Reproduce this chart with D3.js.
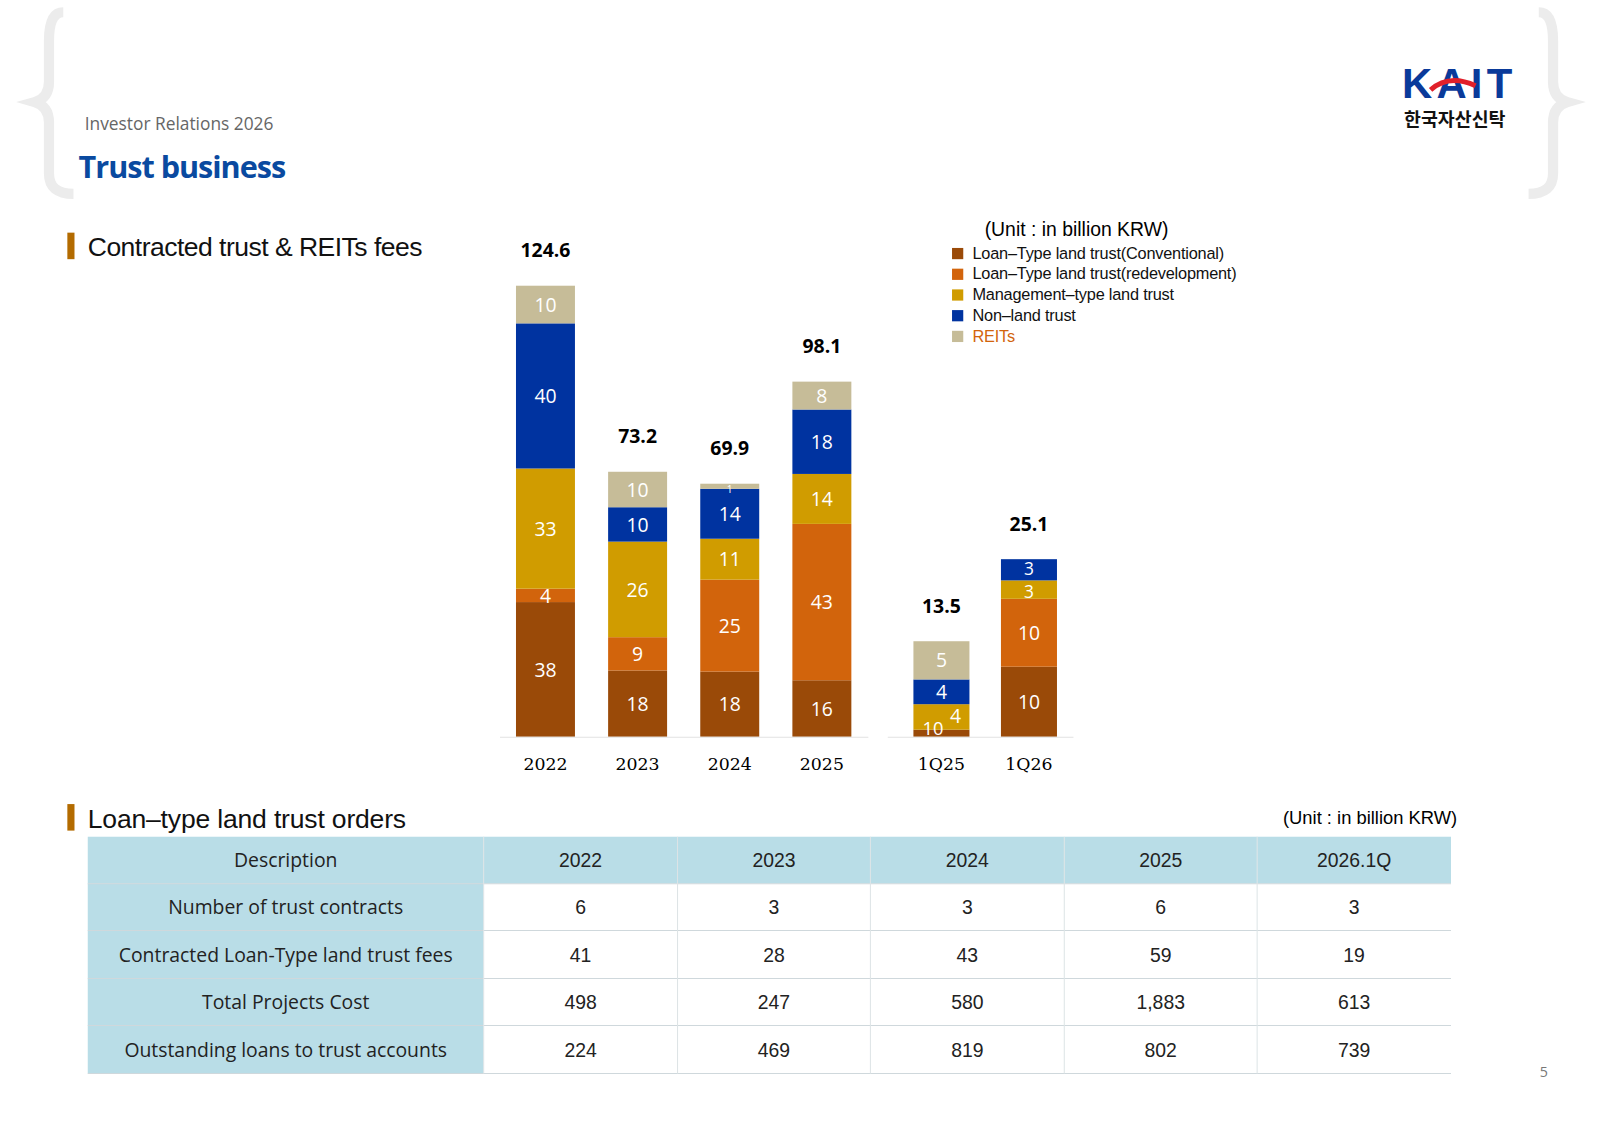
<!DOCTYPE html><html><head><meta charset="utf-8"><script src="https://cdn.jsdelivr.net/npm/d3@7"></script>
<style>body{margin:0;background:#fff}</style></head><body><svg id="c" width="1600" height="1132"></svg>
<script>
const annualCats=["2022","2023","2024","2025"];
const quarterCats=["1Q25","1Q26"];
const seriesNames=["Loan–Type land trust(Conventional)","Loan–Type land trust(redevelopment)","Management–type land trust","Non–land trust","REITs"];
const colors=["#9a4a08","#d2640c","#d09c00","#0033a0","#c6bc98"];
const annualVals=[[37.2,3.7,33.2,40.1,10.4],[18.3,9.2,26.4,9.5,9.8],[18,25.4,11.3,13.8,1.4],[15.6,43.2,13.8,17.8,7.7]];
const annualLabels=[["38","4","33","40","10"],["18","9","26","10","10"],["18","25","11","14","1"],["16","43","14","18","8"]];
const annualTotals=["124.6","73.2","69.9","98.1"];
const quarterVals=[[1.0,3.6,3.5,5.4],[9.9,9.6,2.6,3.0]];
const quarterLabels=[["10","4","4","5"],["10","10","3","3"]];
const quarterSeries=[[0,2,3,4],[0,1,2,3]];
const quarterTotals=["13.5","25.1"];
const tableHead=["Description","2022","2023","2024","2025","2026.1Q"];
const tableRows=[["Number of trust contracts","6","3","3","6","3"],["Contracted Loan-Type land trust fees","41","28","43","59","19"],["Total Projects Cost","498","247","580","1,883","613"],["Outstanding loans to trust accounts","224","469","819","802","739"]];

const svg=d3.select("#c").append("g").attr("transform","scale(1.0204)");const F="'Open Sans','Noto Sans',sans-serif";const FA="'Liberation Sans',Arial,sans-serif";
svg.append("path").attr("d","M62,12 Q48,12 48,40 L48,80 Q48,96 34,100 Q48,104 48,120 L48,170 Q48,190 72,190").attr("fill","none").attr("stroke","#ececec").attr("stroke-width",10);
svg.append("path").attr("d","M1508,12 Q1522,12 1522,40 L1522,80 Q1522,96 1536,100 Q1522,104 1522,120 L1522,170 Q1522,190 1498,190").attr("fill","none").attr("stroke","#ececec").attr("stroke-width",10);
svg.append("text").attr("x",1374).attr("y",96).text("KAIT").attr("font-family",FA).attr("font-weight","bold").attr("font-size",41).attr("fill","#0a3a9a").attr("textLength",108);
svg.append("path").attr("d","M1402,88 Q1420,72 1446,84").attr("fill","none").attr("stroke","#e0202a").attr("stroke-width",5);
svg.append("text").attr("x",1376).attr("y",123).text("한국자산신탁").attr("font-family","'Noto Sans CJK KR'").attr("font-weight","bold").attr("font-size",18).attr("fill","#111");
svg.append("text").attr("x",83).attr("y",127).text("Investor Relations 2026").attr("font-family",F).attr("font-size",17).attr("fill","#666");
svg.append("text").attr("x",77).attr("y",174).text("Trust business").attr("font-family",F).attr("font-weight","bold").attr("font-size",30).attr("fill","#0a4aa0").attr("letter-spacing",-1);
[[228,"Contracted trust & REITs fees",328],[788,"Loan–type land trust orders",312]].forEach(([y,t,w])=>{
 svg.append("rect").attr("x",66).attr("y",y).attr("width",7).attr("height",26).attr("fill","#b36b00");
 svg.append("text").attr("x",86).attr("y",y+23).text(t).attr("font-family",FA).attr("font-size",26).attr("fill","#111").attr("textLength",w);});
svg.append("text").attr("x",1428).attr("y",808).attr("text-anchor","end").text("(Unit : in billion KRW)").attr("font-family",FA).attr("font-size",18);
svg.append("text").attr("x",965).attr("y",231).text("(Unit : in billion KRW)").attr("font-family",FA).attr("font-size",19);
seriesNames.forEach((n,i)=>{const y=249+i*20.3;
 svg.append("rect").attr("x",933).attr("y",y-6).attr("width",11).attr("height",11).attr("fill",colors[i]);
 svg.append("text").attr("x",953).attr("y",y+4.5).text(n).attr("font-family",FA).attr("font-size",16).attr("letter-spacing",-0.2).attr("fill",i==4?"#d2640c":"#111");});
const base=722;
const ya=d3.scaleLinear().domain([0,124.6]).range([base,280]);
const yq=d3.scaleLinear().domain([0,25.1]).range([base,548]);
const xa=d3.scaleBand().domain(annualCats).range([484,856]).paddingInner(0.36).paddingOuter(0.24);
const xq=d3.scaleBand().domain(quarterCats).range([878,1053]).paddingInner(0.36).paddingOuter(0.2);
const barG=svg.append("g"),labG=svg.append("g");
function draw(cats,vals,labels,sers,totals,x,y){
 cats.forEach((c,i)=>{let acc=0;const bw=x.bandwidth(),x0=x(c);
  vals[i].forEach((v,j)=>{const s=sers?sers[i][j]:j;const y0=y(acc),y1=y(acc+v);acc+=v;
   barG.append("rect").attr("x",x0).attr("y",y1).attr("width",bw).attr("height",y0-y1).attr("fill",colors[s]);
   const lb=labels[i][j];let lx=x0+bw/2,ly=(y0+y1)/2+7,fs=19;
   if(c==="1Q25"&&j===0){lx=x0+bw*0.35;ly=y0-2;fs=18;} if(c==="1Q25"&&j===1){lx=x0+bw*0.75;ly=y1+18;}
   if(c==="2024"&&j===4){ly=y1+9;fs=10;}
   if(c==="1Q26"&&j===2){fs=17;ly=(y0+y1)/2+8;}
   if(c==="1Q26"&&j===3){fs=17;ly=(y0+y1)/2+5;}
   labG.append("text").attr("x",lx).attr("y",ly).attr("text-anchor","middle").text(lb).attr("font-family",F).attr("font-size",fs).attr("fill","#fff");});
  labG.append("text").attr("x",x0+bw/2).attr("y",y(acc)-28).attr("text-anchor","middle").text(totals[i]).attr("font-family",F).attr("font-weight","bold").attr("font-size",19);
  labG.append("text").attr("x",x0+bw/2).attr("y",755).attr("text-anchor","middle").text(c).attr("font-family","'DejaVu Serif',serif").attr("font-size",17);});}
draw(annualCats,annualVals,annualLabels,null,annualTotals,xa,ya);
draw(quarterCats,quarterVals,quarterLabels,quarterSeries,quarterTotals,xq,yq);
svg.append("line").attr("x1",490).attr("x2",851).attr("y1",base+0.5).attr("y2",base+0.5).attr("stroke","#e2e2e2");
svg.append("line").attr("x1",870).attr("x2",1052).attr("y1",base+0.5).attr("y2",base+0.5).attr("stroke","#e2e2e2");
const cx=[86,474,664,853,1043,1232,1422];const ry=[820,866,912,959,1005,1052];
for(let r=0;r<5;r++)for(let c=0;c<6;c++){
 const fill=(r==0||c==0)?"#b9dde7":"#fff";
 svg.append("rect").attr("x",cx[c]).attr("y",ry[r]).attr("width",cx[c+1]-cx[c]).attr("height",ry[r+1]-ry[r]).attr("fill",fill);
 const t=r==0?tableHead[c]:tableRows[r-1][c];
 svg.append("text").attr("x",(cx[c]+cx[c+1])/2).attr("y",(ry[r]+ry[r+1])/2+7).attr("text-anchor","middle").text(t).attr("font-family",c==0?F:FA).attr("font-size",19).attr("fill","#222");}
for(let r=1;r<6;r++)svg.append("line").attr("x1",86).attr("x2",1422).attr("y1",ry[r]).attr("y2",ry[r]).attr("stroke","#cfd8dc");
for(let c=1;c<6;c++)svg.append("line").attr("x1",cx[c]).attr("x2",cx[c]).attr("y1",820).attr("y2",1052).attr("stroke","#dde4e6");
svg.append("text").attr("x",1517).attr("y",1055).attr("text-anchor","end").text("5").attr("font-family",F).attr("font-size",14).attr("fill","#777");
</script></body></html>
